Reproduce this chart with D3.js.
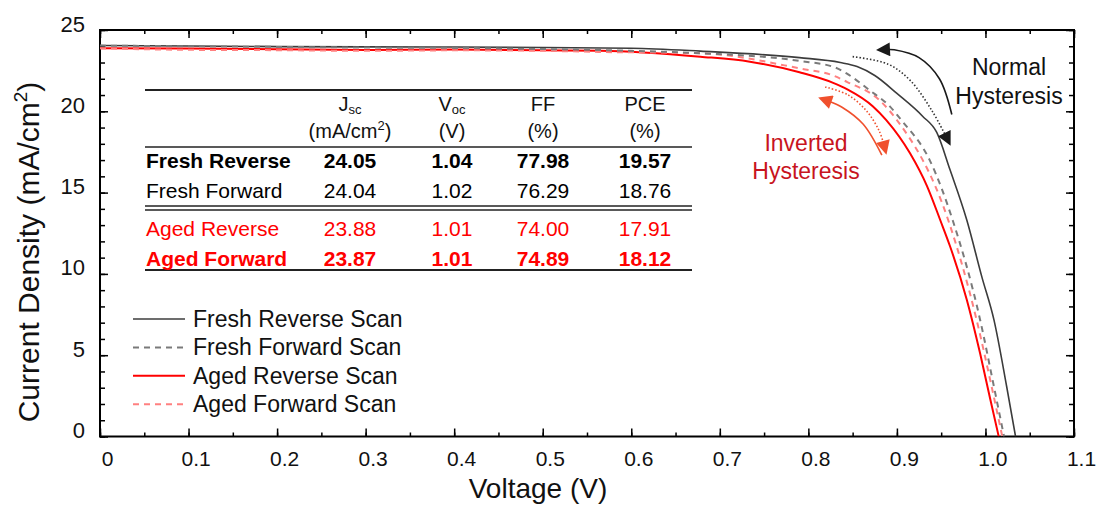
<!DOCTYPE html>
<html>
<head>
<meta charset="utf-8">
<script src="https://cdnjs.cloudflare.com/ajax/libs/d3/7.8.5/d3.min.js"></script>
<style>
	html, body { margin: 0; padding: 0; background: #fff; }
	svg text { font-family: Arial, "Liberation Sans", sans-serif; }
</style>
</head>
<body>
<svg id="canvas"></svg>
<script>
const WIDTH = 1101,
	HEIGHT = 512;

// J-V scans (V in volts, J in mA/cm2)
const freshRevV = [0, 0.1, 0.2, 0.3, 0.4, 0.5, 0.6, 0.678, 0.79, 0.836, 0.855, 0.875, 0.9, 0.929, 0.945, 0.96, 0.979, 0.996, 1.0096, 1.024, 1.034],
	freshRevJ = [24.05, 24.02, 23.98, 23.96, 23.95, 23.92, 23.88, 23.7, 23.3, 23.0, 22.75, 22.2, 21.1, 19.7, 18.7, 16.4, 13.3, 9.8, 7.17, 3.06, 0];

const freshFwdV = [0, 0.1, 0.2, 0.3, 0.4, 0.5, 0.6, 0.678, 0.79, 0.83, 0.844, 0.869, 0.892, 0.905, 0.937, 0.963, 0.994, 1.0096, 1.021],
	freshFwdJ = [24.04, 24.0, 23.96, 23.92, 23.9, 23.83, 23.72, 23.57, 23.1, 22.7, 22.3, 21.3, 20.3, 19.46, 17.0, 13.3, 7.17, 3.06, 0];

const agedRevV = [0, 0.1, 0.2, 0.3, 0.4, 0.5, 0.565, 0.678, 0.734, 0.79, 0.828, 0.844, 0.873, 0.888, 0.915, 0.934, 0.949, 0.96, 0.979, 0.994, 1.005, 1.015],
	agedRevJ = [23.88, 23.86, 23.82, 23.77, 23.8, 23.75, 23.73, 23.36, 23.05, 22.4, 21.75, 21.35, 20.3, 19.46, 17.4, 15.4, 13.3, 11.7, 8.4, 5.1, 2.4, 0];

const agedFwdV = [0, 0.1, 0.2, 0.3, 0.4, 0.5, 0.565, 0.678, 0.79, 0.828, 0.844, 0.88, 0.9, 0.958, 0.99, 1.007, 1.019],
	agedFwdJ = [23.87, 23.78, 23.76, 23.72, 23.75, 23.72, 23.65, 23.57, 22.64, 22.2, 21.8, 20.7, 19.46, 13.3, 7.17, 3.06, 0];

const seriesNames = ['Fresh Reverse Scan', 'Fresh Forward Scan', 'Aged Reverse Scan', 'Aged Forward Scan'];

// summary table
const tableRows = ['Fresh Reverse', 'Fresh Forward', 'Aged Reverse', 'Aged Forward'],
	jscVals = ['24.05', '24.04', '23.88', '23.87'],
	vocVals = ['1.04', '1.02', '1.01', '1.01'],
	ffVals = ['77.98', '76.29', '74.00', '74.89'],
	pceVals = ['19.57', '18.76', '17.91', '18.12'];

const xMajor = [0, 0.1, 0.2, 0.3, 0.4, 0.5, 0.6, 0.7, 0.8, 0.9, 1.0, 1.1],
	xLabels = ['0', '0.1', '0.2', '0.3', '0.4', '0.5', '0.6', '0.7', '0.8', '0.9', '1.0', '1.1'],
	yMajor = [0, 5, 10, 15, 20, 25];

// hysteresis arrows, in data units
const normalSolid = [[0.962, 19.8], [0.948, 22.0], [0.925, 23.3], [0.897, 23.78], [0.889, 23.8]],
	normalDotted = [[0.850, 23.36], [0.89, 22.9], [0.915, 21.9], [0.94, 20.0], [0.955, 18.5]],
	invertedSolid = [[0.883, 17.3], [0.862, 19.2], [0.838, 20.25], [0.823, 20.62]],
	invertedDotted = [[0.819, 21.5], [0.845, 21.0], [0.866, 20.0], [0.88, 18.8], [0.885, 18.0]];

const margin = { left: 100, right: WIDTH - 1074, top: 30, bottom: HEIGHT - 436.5 };

const x = d3.scaleLinear().domain([0, 1.1]).range([margin.left, WIDTH - margin.right]),
	y = d3.scaleLinear().domain([0, 25]).range([HEIGHT - margin.bottom, margin.top]);

const svg = d3.select('svg#canvas')
	.attr('width', WIDTH)
	.attr('height', HEIGHT);

const defs = svg.append('defs');
defs.append('clipPath').attr('id', 'plot-clip')
	.append('rect')
	.attr('x', x(0)).attr('y', y(25))
	.attr('width', x(1.1) - x(0)).attr('height', y(0) - y(25));

[['head-black', '#1a1a1a'], ['head-red', '#f0502d']].forEach(([id, color]) => {
	defs.append('marker')
		.attr('id', id)
		.attr('markerUnits', 'userSpaceOnUse')
		.attr('viewBox', '0 0 10 10')
		.attr('refX', 2).attr('refY', 5)
		.attr('markerWidth', 15).attr('markerHeight', 14)
		.attr('orient', 'auto')
		.append('path')
		.attr('d', 'M0,0 L10,5 L0,10 Z')
		.attr('fill', color);
});

// axes: major ticks + labels, minor ticks, all pointing inward
const minorX = d3.range(0, 23).map(i => i * 0.05),
	minorY = d3.range(0, 26);

function addAxis(axisFn, scale, pos, values, size, labels) {
	const g = svg.append('g')
		.attr('transform', pos)
		.call(axisFn(scale).tickValues(values).tickSize(-size).tickFormat(labels ? (d, i) => labels[i] : ''));
	g.select('.domain').remove();
	g.selectAll('line').attr('stroke', '#000').attr('stroke-width', 1.5);
	return g;
}

const bottomTrans = `translate(0,${y(0)})`,
	topTrans = `translate(0,${y(25)})`,
	leftTrans = `translate(${x(0)},0)`,
	rightTrans = `translate(${x(1.1)},0)`;

addAxis(d3.axisBottom, x, bottomTrans, minorX, 4);
addAxis(d3.axisTop, x, topTrans, minorX, 4);
addAxis(d3.axisLeft, y, leftTrans, minorY, 5);
addAxis(d3.axisRight, y, rightTrans, minorY, 5);

const xAxisG = addAxis(d3.axisBottom, x, bottomTrans, xMajor, 8, xLabels);
xAxisG.selectAll('text')
	.attr('y', 15)
	.attr('dx', 7)
	.attr('font-size', 21)
	.attr('fill', '#111');
addAxis(d3.axisTop, x, topTrans, xMajor, 8);

const yAxisG = addAxis(d3.axisLeft, y, leftTrans, yMajor, 8, yMajor.map(String));
yAxisG.selectAll('text')
	.attr('x', -15)
	.attr('dy', '0.32em')
	.attr('transform', 'translate(0,-6)')
	.attr('font-size', 22)
	.attr('fill', '#111');
addAxis(d3.axisRight, y, rightTrans, yMajor, 8);

// frame
svg.append('rect')
	.attr('x', x(0)).attr('y', y(25))
	.attr('width', x(1.1) - x(0)).attr('height', y(0) - y(25))
	.attr('fill', 'none')
	.attr('stroke', '#000')
	.attr('stroke-width', 2);

// axis titles
svg.append('text')
	.attr('x', 538).attr('y', 498)
	.attr('text-anchor', 'middle')
	.attr('font-size', 28)
	.attr('fill', '#111')
	.text('Voltage (V)');

const yTitle = svg.append('text')
	.attr('transform', 'translate(39,252) rotate(-90)')
	.attr('text-anchor', 'middle')
	.attr('font-size', 30)
	.attr('fill', '#111');
yTitle.append('tspan').text('Current Density (mA/cm');
yTitle.append('tspan').attr('font-size', 19).attr('dy', -12).text('2');
yTitle.append('tspan').attr('dy', 12).text(')');

// curves
const series = [
	{ name: seriesNames[0], v: freshRevV, j: freshRevJ, color: '#3c3c3c', dash: null, width: 1.6 },
	{ name: seriesNames[1], v: freshFwdV, j: freshFwdJ, color: '#7a7a7a', dash: '6,5', width: 2 },
	{ name: seriesNames[2], v: agedRevV, j: agedRevJ, color: '#ff0000', dash: null, width: 2 },
	{ name: seriesNames[3], v: agedFwdV, j: agedFwdJ, color: '#ff8080', dash: '6,5', width: 2 }
];

const line = d3.line()
	.x(d => x(d[0]))
	.y(d => y(d[1]))
	.curve(d3.curveMonotoneX);

const curvesG = svg.append('g').attr('clip-path', 'url(#plot-clip)');
// draw dashed scans on top of solid ones
[0, 2, 3, 1].forEach(i => {
	const s = series[i];
	curvesG.append('path')
		.datum(s.v.map((v, k) => [v, s.j[k]]))
		.attr('d', line)
		.attr('fill', 'none')
		.attr('stroke', s.color)
		.attr('stroke-width', s.width)
		.attr('stroke-dasharray', s.dash);
});

// hysteresis arrows
const arrowLine = d3.line()
	.x(d => x(d[0]))
	.y(d => y(d[1]))
	.curve(d3.curveCatmullRom);

[
	[normalSolid, '#1a1a1a', null, 'head-black'],
	[normalDotted, '#333', '1.5,2', 'head-black'],
	[invertedSolid, '#f0502d', null, 'head-red'],
	[invertedDotted, '#f0502d', '1.5,2', 'head-red']
].forEach(([pts, color, dash, head]) => {
	svg.append('path')
		.datum(pts)
		.attr('d', arrowLine)
		.attr('fill', 'none')
		.attr('stroke', color)
		.attr('stroke-width', 1.6)
		.attr('stroke-dasharray', dash)
		.attr('marker-end', `url(#${head})`);
});

svg.append('g')
	.attr('font-size', 23)
	.attr('text-anchor', 'middle')
	.attr('fill', '#111')
	.selectAll('text')
	.data(['Normal', 'Hysteresis'])
	.join('text')
	.attr('x', 1009)
	.attr('y', (d, i) => 75 + i * 29)
	.text(d => d);

svg.append('g')
	.attr('font-size', 23)
	.attr('text-anchor', 'middle')
	.attr('fill', '#c8141e')
	.selectAll('text')
	.data(['Inverted', 'Hysteresis'])
	.join('text')
	.attr('x', 806)
	.attr('y', (d, i) => 151 + i * 28)
	.text(d => d);

// legend
const legend = svg.append('g');
series.forEach((s, i) => {
	const ly = 319 + i * 28.4;
	legend.append('line')
		.attr('x1', 133).attr('x2', 185)
		.attr('y1', ly).attr('y2', ly)
		.attr('stroke', s.color)
		.attr('stroke-width', s.width)
		.attr('stroke-dasharray', s.dash);
	legend.append('text')
		.attr('x', 193).attr('y', ly + 8)
		.attr('font-size', 23)
		.attr('fill', '#111')
		.text(s.name);
});

// summary table
const table = svg.append('g');
const colX = [350, 452, 543, 645],
	rowY = [168, 198, 236, 266],
	rowColor = ['#000', '#000', '#ff0000', '#ff0000'],
	rowBold = [true, false, false, true],
	cols = [jscVals, vocVals, ffVals, pceVals];

const rule = (yy, w) => table.append('line')
	.attr('x1', 145).attr('x2', 692)
	.attr('y1', yy).attr('y2', yy)
	.attr('stroke', '#222')
	.attr('stroke-width', w);
rule(90, 2);
rule(147, 1.5);
rule(206, 1.5);
rule(210, 1.5);
rule(270, 2);

const headTop = [['J', 'sc'], ['V', 'oc'], ['FF', null], ['PCE', null]],
	headUnit = ['(mA/cm', '(V)', '(%)', '(%)'];
headTop.forEach(([main, sub], c) => {
	const t = table.append('text')
		.attr('x', colX[c]).attr('y', 111)
		.attr('text-anchor', 'middle')
		.attr('font-size', 20)
		.attr('fill', '#111');
	t.append('tspan').text(main);
	if (sub) t.append('tspan').attr('font-size', 13).attr('dy', 3).text(sub);
	const u = table.append('text')
		.attr('x', colX[c]).attr('y', 138)
		.attr('text-anchor', 'middle')
		.attr('font-size', 20)
		.attr('fill', '#111');
	u.append('tspan').text(headUnit[c]);
	if (c === 0) {
		u.append('tspan').attr('font-size', 13).attr('dy', -8).text('2');
		u.append('tspan').attr('dy', 8).text(')');
	}
});

tableRows.forEach((name, r) => {
	const weight = rowBold[r] ? 'bold' : 'normal';
	table.append('text')
		.attr('x', 146).attr('y', rowY[r])
		.attr('font-size', 21)
		.attr('font-weight', weight)
		.attr('fill', rowColor[r])
		.text(name);
	cols.forEach((vals, c) => {
		table.append('text')
			.attr('x', colX[c]).attr('y', rowY[r])
			.attr('text-anchor', 'middle')
			.attr('font-size', 21)
			.attr('font-weight', weight)
			.attr('fill', rowColor[r])
			.text(vals[r]);
	});
});
</script>
</body>
</html>
